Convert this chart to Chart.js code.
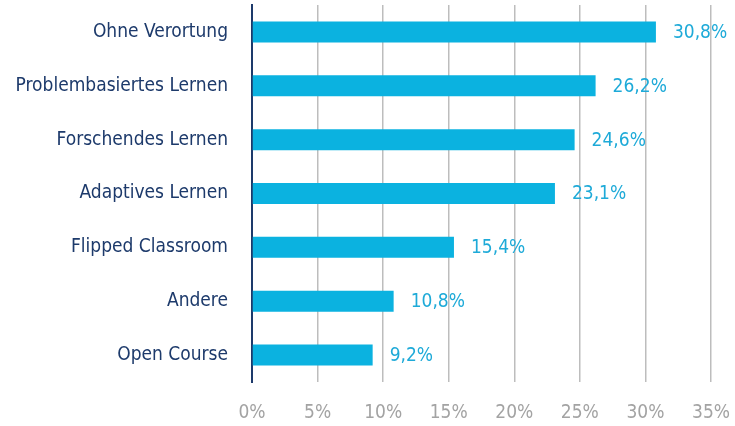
<!DOCTYPE html>
<html>
<head>
<meta charset="utf-8">
<script src="https://cdn.jsdelivr.net/npm/chart.js@4"></script>
<style>
  html, body { margin: 0; padding: 0; background: #fff; }
  #wrap { width: 735px; height: 426px; }
</style>
</head>
<body>
<div id="wrap"><canvas id="chart" width="735" height="426"></canvas></div>
<script>
const categories = [
  "Ohne Verortung",
  "Problembasiertes Lernen",
  "Forschendes Lernen",
  "Adaptives Lernen",
  "Flipped Classroom",
  "Andere",
  "Open Course",
];
const shares = [30.8, 26.2, 24.6, 23.1, 15.4, 10.8, 9.2];
const xTicks = [0, 5, 10, 15, 20, 25, 30, 35];

const FONT = "'DejaVu Sans Condensed', 'Roboto', sans-serif";
const NAVY = "#1d3a6b";
const CYAN = "#0bb2e0";
const LABEL_CYAN = "#1eaad8";

function fmtPct(v) {
  return String(v).replace(".", ",") + "%";
}

// draws the value next to each bar
const valueLabels = {
  id: "valueLabels",
  afterDatasetsDraw(chart) {
    const ctx = chart.ctx;
    const meta = chart.getDatasetMeta(0);
    ctx.save();
    ctx.fillStyle = LABEL_CYAN;
    ctx.font = "19px " + FONT;
    ctx.textAlign = "left";
    ctx.textBaseline = "middle";
    meta.data.forEach((bar, i) => {
      ctx.fillText(fmtPct(shares[i]), bar.x + 17, bar.y + 1);
    });
    ctx.restore();
  },
};

new Chart(document.getElementById("chart").getContext("2d"), {
  type: "bar",
  data: {
    labels: categories,
    datasets: [{
      data: shares,
      backgroundColor: CYAN,
      barPercentage: 0.78,
      categoryPercentage: 0.5,
    }],
  },
  options: {
    indexAxis: "y",
    responsive: false,
    animation: false,
    layout: { padding: { top: 5, right: 24, bottom: 0, left: 0 } },
    plugins: { legend: { display: false }, tooltip: { enabled: false } },
    scales: {
      x: {
        min: 0,
        max: 35,
        afterBuildTicks: (axis) => { axis.ticks = xTicks.map((v) => ({ value: v })); },
        afterFit: (axis) => {
          axis.height = 44;
          axis.paddingLeft = 0;
          axis.paddingRight = 0;
        },
        ticks: {
          color: "#a3a3a3",
          font: { family: FONT, size: 19 },
          padding: 20,
          maxRotation: 0,
          callback: (v) => v + "%",
        },
        grid: { color: "#bdbdbd", lineWidth: 1.5, drawTicks: false },
        border: { display: false },
      },
      y: {
        afterFit: (axis) => {
          axis.width = 252;
          axis.paddingTop = 0;
          axis.paddingBottom = 0;
        },
        ticks: {
          color: NAVY,
          font: { family: FONT, size: 19 },
          padding: 24,
        },
        grid: { display: false, drawTicks: false },
        border: { display: true, color: NAVY, width: 2 },
      },
    },
  },
  plugins: [valueLabels],
});
</script>
</body>
</html>
